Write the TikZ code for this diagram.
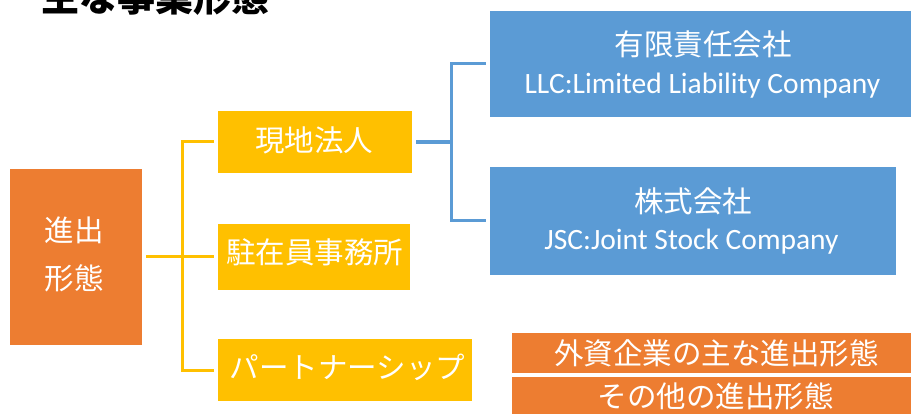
\documentclass[tikz,border=0pt]{standalone}
\usepackage{fontspec}
\newfontfamily\jp{Noto Sans CJK JP}
\newfontfamily\lat{Carlito}
\definecolor{cOrange}{HTML}{ED7D31}
\definecolor{cYellow}{HTML}{FFC000}
\definecolor{cBlue}{HTML}{5B9BD5}
\begin{document}
\begin{tikzpicture}[x=1pt,y=-1pt,
  box/.style={rectangle,inner sep=0pt,outer sep=0pt},
  obox/.style={box,fill=cOrange},
  ybox/.style={box,fill=cYellow},
  bbox/.style={box,fill=cBlue},
  jtxt/.style={anchor=base,text=white,inner sep=0pt,font=\jp\fontsize{29.5}{30}\selectfont},
  ltxt/.style={anchor=base,text=white,inner sep=0pt,font=\lat\fontsize{29.5}{30}\selectfont},
  yline/.style={draw=cYellow,line width=3pt},
  bline/.style={draw=cBlue,line width=3pt}]
\useasboundingbox (0,0) rectangle (911,414);
\clip (0,0) rectangle (911,414);
\fill[white] (0,0) rectangle (911,414);
% title
\node[anchor=base west,inner sep=0pt,font=\jp\bfseries\fontsize{38}{40}\selectfont] (title) at (41,11.3) {主な事業形態};
% boxes
\node[obox,minimum width=132pt,minimum height=176pt] (root) at (76,257) {};
\node[ybox,minimum width=194pt,minimum height=62pt] (lp) at (315,142) {};
\node[ybox,minimum width=192pt,minimum height=66pt] (rep) at (314,257) {};
\node[ybox,minimum width=254pt,minimum height=62pt] (pt) at (345,370) {};
\node[bbox,minimum width=425pt,minimum height=106pt] (llc) at (702.5,64) {};
\node[bbox,minimum width=406pt,minimum height=108pt] (jsc) at (693,221) {};
\node[obox,minimum width=403pt,minimum height=40pt] (leg1) at (713.5,353) {};
\node[obox,minimum width=403pt,minimum height=41pt] (leg2) at (713.5,397.5) {};
% texts
\node[jtxt] (t1) at (74.5,241.5) {進出};
\node[jtxt] (t2) at (74.5,289.5) {形態};
\node[jtxt] (t3) at (314,151.2) {現地法人};
\node[jtxt] (t4) at (314.5,264) {駐在員事務所};
\node[jtxt] (t5) at (347.5,378) {パートナーシップ};
\node[jtxt] (t6) at (703,56) {有限責任会社};
\node[ltxt] (t7) at (702.5,94) {LLC:Limited Liability Company};
\node[jtxt] (t8) at (693,213) {株式会社};
\node[ltxt] (t9) at (691.5,250) {JSC:Joint Stock Company};
\node[jtxt] (t10) at (716.5,364) {外資企業の主な進出形態};
\node[jtxt] (t11) at (715.5,407) {その他の進出形態};
% connectors
\coordinate (yb) at (182,257);
\draw[yline,shorten <=4pt] (root.east) -- (yb);
\draw[yline,shorten >=4pt] (yb) |- (lp.west);
\draw[yline,shorten >=4pt] (yb) -- (rep.west);
\draw[yline,shorten >=4pt] (yb) |- (pt.west);
\coordinate (bb) at (451,142);
\draw[bline,line width=4.5pt,shorten <=4pt] (lp.east) -- (bb);
\draw[bline,shorten >=4pt] (bb) |- (llc.west);
\draw[bline,shorten >=4pt] (bb) |- (jsc.west);
\end{tikzpicture}
\end{document}
